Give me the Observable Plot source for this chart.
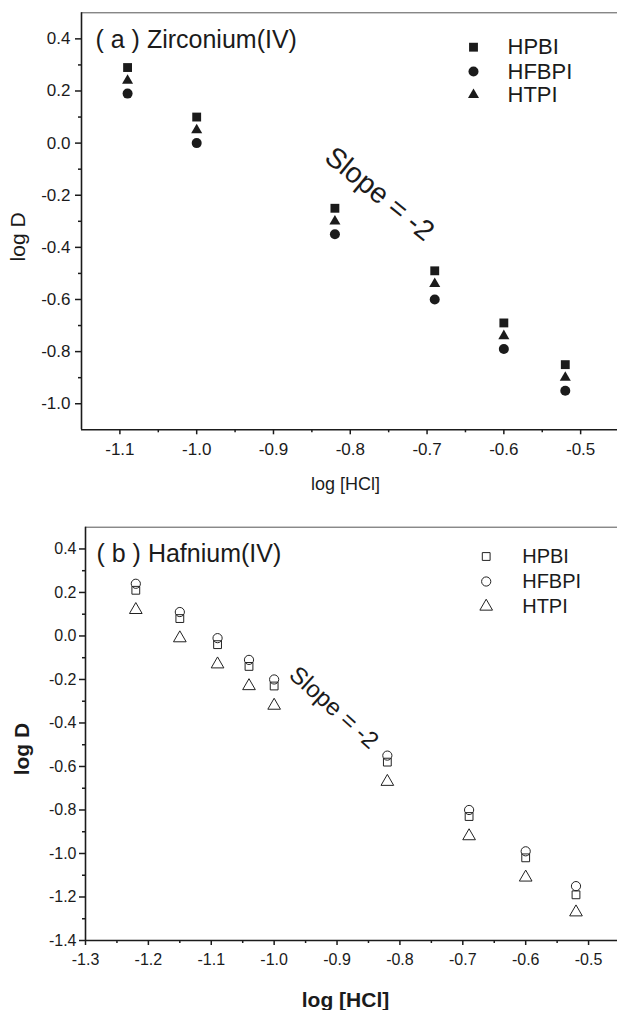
<!DOCTYPE html>
<html><head><meta charset="utf-8">
<script src="https://cdn.jsdelivr.net/npm/d3@7"></script>
<script src="https://cdn.jsdelivr.net/npm/@observablehq/plot@0.6"></script>
<style>
body{margin:0;background:#fff;}
#wrap{position:relative;width:617px;height:1010px;overflow:hidden;font-family:"Liberation Sans",Arial,sans-serif;}
#a{position:absolute;left:0;top:0;}
#b{position:absolute;left:0;top:500px;}
</style></head><body><div id="wrap"><div id="a"></div><div id="b"></div></div>
<script>
// ---- data ----
const series = ["HPBI", "HFBPI", "HTPI"];
const zrLogHCl = [-1.09, -1.0, -0.82, -0.69, -0.6, -0.52];
const zrHPBI  = [0.29, 0.10, -0.25, -0.49, -0.69, -0.85];
const zrHFBPI = [0.19, 0.00, -0.35, -0.60, -0.79, -0.95];
const zrHTPI  = [0.24, 0.05, -0.30, -0.54, -0.74, -0.90];
const hfLogHCl = [-1.22, -1.15, -1.09, -1.04, -1.0, -0.82, -0.69, -0.6, -0.52];
const hfHPBI  = [0.21, 0.08, -0.04, -0.14, -0.23, -0.58, -0.83, -1.02, -1.19];
const hfHFBPI = [0.24, 0.11, -0.01, -0.11, -0.20, -0.55, -0.80, -0.99, -1.15];
const hfHTPI  = [0.12, -0.01, -0.13, -0.23, -0.32, -0.67, -0.92, -1.11, -1.27];
const zrXTicks = [-1.1, -1.0, -0.9, -0.8, -0.7, -0.6, -0.5];
const zrYTicks = [-1.0, -0.8, -0.6, -0.4, -0.2, 0.0, 0.2, 0.4];
const hfXTicks = [-1.3, -1.2, -1.1, -1.0, -0.9, -0.8, -0.7, -0.6, -0.5];
const hfYTicks = [-1.4, -1.2, -1.0, -0.8, -0.6, -0.4, -0.2, 0.0, 0.2, 0.4];
const zrTitle = "( a ) Zirconium(IV)";
const hfTitle = "( b ) Hafnium(IV)";
const slopeText = "Slope = -2";
// annotation anchors (data units)
const zrSlopeAt = [-0.762, -0.195];
const hfSlopeAt = [-0.905, -0.33];
const zrYLabelAt = -0.36;
const hfYLabelAt = -0.52;

const fmt = d => d.toFixed(1);
const minorOf = (ticks, step) => ticks.map(t => +(t + step).toFixed(3));

function panel(opt) {
  const rows = opt.x.map((x, i) => ({x, HPBI: opt.s[0][i], HFBPI: opt.s[1][i], HTPI: opt.s[2][i]}));
  const [x0, x1] = opt.xDomain, [y0, y1] = opt.yDomain;
  const ink = "#1b1b1b";
  const marks = [
    Plot.ruleY([y1], {stroke: "#555", strokeWidth: 1}),
    Plot.ruleY([y0], {stroke: ink, strokeWidth: 1.6}),
    Plot.ruleX([x0], {stroke: ink, strokeWidth: 1.6}),
    Plot.axisX(opt.xTicks, {tickSize: 5, tickPadding: opt.tp, tickFormat: fmt, fontSize: opt.tickFont, label: null, strokeWidth: 1.5}),
    Plot.axisX(minorOf(opt.xTicks, -0.05).filter(v => v > x0 && v < x1), {tickSize: 3, tickFormat: () => "", label: null, strokeWidth: 1.5}),
    Plot.axisY(opt.yTicks, {tickSize: 6, tickPadding: opt.tpy, tickFormat: fmt, fontSize: opt.tickFont, label: null, strokeWidth: 1.5}),
    Plot.axisY(minorOf(opt.yTicks, 0.1).filter(v => v > y0 && v < y1), {tickSize: 3, tickFormat: () => "", label: null, strokeWidth: 1.5}),
    Plot.text([opt.title], {frameAnchor: "top-left", lineAnchor: "middle", dx: opt.titleDx, dy: opt.titleDy, textAnchor: "start", fontSize: opt.titleFont, fill: ink}),
    Plot.text([slopeText], {x: opt.slopeAt[0], y: opt.slopeAt[1], lineAnchor: "middle", rotate: opt.slopeRot, fontSize: opt.slopeFont, fill: ink}),
    Plot.text(["log D"], {x: x0, y: opt.yLabAt, lineAnchor: "middle", dx: -63, rotate: -90, fontSize: opt.yLabFont, fontWeight: opt.labWeight, fill: ink}),
    Plot.text(["log [HCl]"], {frameAnchor: "bottom", lineAnchor: "middle", dx: opt.xLabDx, dy: opt.xLabDy, fontSize: opt.xLabFont, fontWeight: opt.labWeight, fill: ink})
  ];
  series.forEach((name, k) => {
    const sym = opt.symbols[k];
    const dotStyle = opt.filled
      ? {fill: ink, stroke: "none"}
      : {fill: "none", stroke: "#222", strokeWidth: 1};
    marks.push(Plot.dot(rows, {x: "x", y: name, symbol: sym, r: opt.r[k], ...dotStyle}));
    marks.push(Plot.dot([name], {frameAnchor: "top-left", dx: opt.legSymDx, dy: opt.legDy[k], symbol: sym, r: opt.r[k], ...dotStyle}));
    marks.push(Plot.text([name], {frameAnchor: "top-left", lineAnchor: "middle", dx: opt.legTextDx, dy: opt.legDy[k], textAnchor: "start", fontSize: opt.legFont, fill: ink}));
  });
  return Plot.plot({
    width: 617, height: opt.height,
    marginTop: opt.mt, marginBottom: opt.mb, marginLeft: opt.ml, marginRight: 0,
    x: {domain: opt.xDomain, label: null},
    y: {domain: opt.yDomain, label: null},
    style: {fontFamily: "'Liberation Sans', Arial, sans-serif", color: "#1b1b1b", background: "transparent", overflow: "visible"},
    marks
  });
}

document.getElementById("a").append(panel({
  x: zrLogHCl, s: [zrHPBI, zrHFBPI, zrHTPI],
  xDomain: [-1.15, -0.452], yDomain: [-1.1, 0.5],
  xTicks: zrXTicks, yTicks: zrYTicks,
  height: 500, mt: 12.3, mb: 70.7, ml: 81, tp: 8, tpy: 5, tickFont: 17,
  title: zrTitle, titleDx: 14, titleDy: 27.5, titleFont: 25,
  slopeAt: zrSlopeAt, slopeFont: 28.5, slopeRot: 39,
  yLabAt: zrYLabelAt, yLabFont: 21, xLabFont: 18, xLabDx: -4, xLabDy: 54, labWeight: "normal",
  filled: true, symbols: ["square", "circle", "triangle"], r: [5, 5, 4.1],
  legSymDx: 392, legTextDx: 426, legDy: [34.4, 58.7, 82], legFont: 22
}));

document.getElementById("b").append(panel({
  x: hfLogHCl, s: [hfHPBI, hfHFBPI, hfHTPI],
  xDomain: [-1.3, -0.454], yDomain: [-1.4, 0.5],
  xTicks: hfXTicks, yTicks: hfYTicks,
  height: 510, mt: 26.7, mb: 70, ml: 85, tp: 8, tpy: 3, tickFont: 16,
  title: hfTitle, titleDx: 11, titleDy: 26.6, titleFont: 25,
  slopeAt: hfSlopeAt, slopeFont: 24, slopeRot: 42,
  yLabAt: hfYLabelAt, yLabFont: 21, xLabFont: 21, xLabDx: -6, xLabDy: 60, labWeight: "bold",
  filled: false, symbols: ["square", "circle", "triangle"], r: [4.4, 4.6, 4.7],
  legSymDx: 400.7, legTextDx: 436.7, legDy: [29.3, 54.3, 79.3], legFont: 20
}));
</script></body></html>
